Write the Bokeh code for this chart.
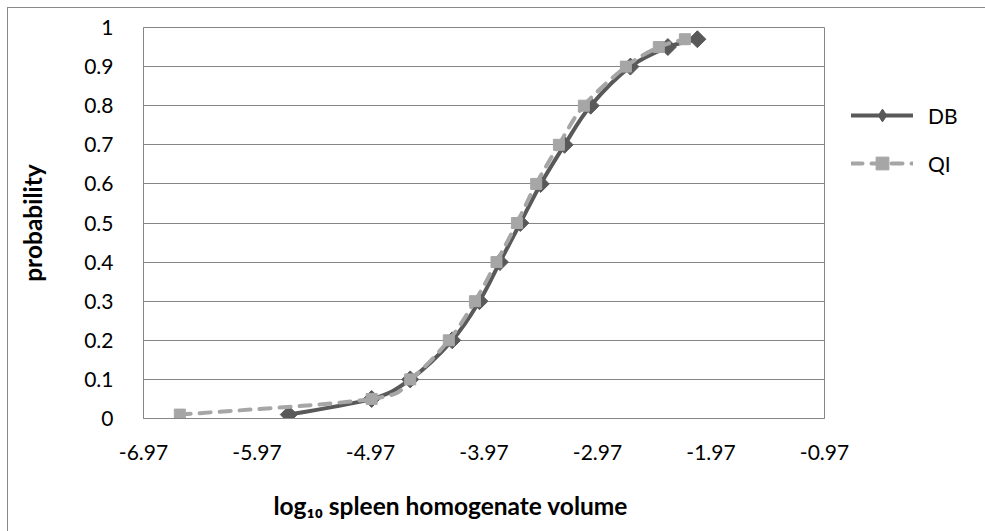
import numpy as np
from bokeh.plotting import figure
from bokeh.models import (FixedTicker, Legend, LegendItem, Title,
                          ColumnDataSource, Range1d)
from bokeh.embed import file_html
from bokeh.resources import INLINE

# ---------------- data ----------------
prob = [0.01, 0.05, 0.1, 0.2, 0.3, 0.4, 0.5, 0.6, 0.7, 0.8, 0.9, 0.95, 0.97]
db_x = [-5.69, -4.96, -4.62, -4.25, -4.01, -3.83, -3.65, -3.47, -3.26, -3.03, -2.68, -2.35, -2.09]
qi_x = [-6.65, -4.96, -4.62, -4.28, -4.05, -3.86, -3.68, -3.51, -3.31, -3.09, -2.72, -2.43, -2.20]
series_names = ["DB", "QI"]
x_ticks = [-6.97, -5.97, -4.97, -3.97, -2.97, -1.97, -0.97]
x_tick_labels = ["-6.97", "-5.97", "-4.97", "-3.97", "-2.97", "-1.97", "-0.97"]
y_ticks = [0, 0.1, 0.2, 0.3, 0.4, 0.5, 0.6, 0.7, 0.8, 0.9, 1]
y_tick_labels = ["0", "0.1", "0.2", "0.3", "0.4", "0.5", "0.6", "0.7", "0.8", "0.9", "1"]
x_title = "log\u2081\u2080 spleen homogenate volume"
y_title = "probability"

FONT = "Lato"
DB_COLOR = "#595959"
QI_COLOR = "#A6A6A6"
GRID = "#868686"


def smooth_segments(xs, ys):
    """Catmull-Rom style Bezier control points (as in spreadsheet 'smoothed lines')."""
    x = np.asarray(xs, float)
    y = np.asarray(ys, float)
    n = len(x)
    xp = np.concatenate([[x[0]], x, [x[-1]]])
    yp = np.concatenate([[y[0]], y, [y[-1]]])
    return dict(
        x0=x[:-1], y0=y[:-1], x1=x[1:], y1=y[1:],
        cx0=x[:-1] + (xp[2:n + 1] - xp[0:n - 1]) / 6.0,
        cy0=y[:-1] + (yp[2:n + 1] - yp[0:n - 1]) / 6.0,
        cx1=x[1:] - (xp[3:n + 2] - xp[1:n]) / 6.0,
        cy1=y[1:] - (yp[3:n + 2] - yp[1:n]) / 6.0,
    )


p = figure(frame_width=681, frame_height=391,
           x_range=Range1d(-6.97, -0.97), y_range=Range1d(0, 1),
           output_backend="svg", toolbar_location=None,
           min_border_left=135, min_border_right=160,
           min_border_top=19, min_border_bottom=113)
p.styles = {"margin-left": "7px", "margin-top": "7px",
            "border-top": "1px solid #898989",
            "border-left": "1px solid #898989",
            "border-right": "1px solid #898989"}
p.background_fill_color = "white"
p.border_fill_color = "white"
p.outline_line_color = GRID
p.outline_line_width = 1

# axes
p.xaxis.ticker = FixedTicker(ticks=x_ticks)
p.xaxis.major_label_overrides = dict(zip(x_ticks, x_tick_labels))
p.yaxis.ticker = FixedTicker(ticks=y_ticks)
p.yaxis.major_label_overrides = dict(zip(y_ticks, y_tick_labels))
for ax in (p.xaxis, p.yaxis):
    ax.axis_line_color = GRID
    ax.axis_line_width = 1
    ax.major_tick_line_color = None
    ax.minor_tick_line_color = None
    ax.major_label_text_font = FONT
    ax.major_label_text_font_size = "21px"
    ax.major_label_text_color = "black"
    ax.axis_label_text_font = FONT
    ax.axis_label_text_font_size = "24.5px"
    ax.axis_label_text_font_style = "bold"
    ax.axis_label_text_color = "black"
p.xaxis.major_label_standoff = 20
p.yaxis.major_label_standoff = 24
p.yaxis.axis_label = y_title
p.yaxis.axis_label_standoff = 34

# x-axis title (as a below-panel title so it can sit left of centre like the original)
p.add_layout(Title(text=x_title, align="left", offset=130, standoff=53,
                   text_font=FONT, text_font_size="24.5px", text_font_style="bold",
                   text_color="black"), "below")

p.xgrid.visible = False
p.ygrid.ticker = FixedTicker(ticks=y_ticks)
p.ygrid.grid_line_color = GRID
p.ygrid.grid_line_width = 1

# series DB
db_src = ColumnDataSource(smooth_segments(db_x, prob))
p.bezier(x0="x0", y0="y0", x1="x1", y1="y1", cx0="cx0", cy0="cy0",
         cx1="cx1", cy1="cy1", source=db_src,
         line_color=DB_COLOR, line_width=4, line_cap="round")
db_pts = p.scatter(db_x, prob, marker="square", size=12, angle=np.pi / 4,
                   fill_color=DB_COLOR, line_color=DB_COLOR)
db_leg = p.line(x=[np.nan], y=[np.nan], line_color=DB_COLOR, line_width=4,
                line_cap="round")
db_leg_mk = p.scatter(x=[np.nan], y=[np.nan], marker="diamond",
                      fill_color=DB_COLOR, line_color=DB_COLOR)

# series QI
qi_src = ColumnDataSource(smooth_segments(qi_x, prob))
p.bezier(x0="x0", y0="y0", x1="x1", y1="y1", cx0="cx0", cy0="cy0",
         cx1="cx1", cy1="cy1", source=qi_src,
         line_color=QI_COLOR, line_width=4, line_dash="11 9", line_cap="round")
qi_pts = p.scatter(qi_x, prob, marker="square", size=11,
                   fill_color=QI_COLOR, line_color=QI_COLOR)
qi_leg = p.line(x=[np.nan], y=[np.nan], line_color=QI_COLOR, line_width=4,
                line_dash="11 9", line_cap="round")

legend = Legend(items=[
    LegendItem(label=series_names[0], renderers=[db_leg, db_leg_mk]),
    LegendItem(label=series_names[1], renderers=[qi_leg, qi_pts]),
], location="top_left")
legend.title = " "
legend.title_text_font = FONT
legend.title_text_font_size = "20px"
legend.title_standoff = 21
legend.glyph_width = 62
legend.glyph_height = 32
legend.label_standoff = 15
legend.spacing = 16
legend.padding = 27
legend.margin = 0
legend.border_line_color = "white"
legend.border_line_alpha = 0
legend.background_fill_alpha = 0
legend.label_text_font = FONT
legend.label_text_font_size = "21px"
legend.label_text_color = "black"
p.add_layout(legend, "right")

open("out.html", "w").write(file_html(p, INLINE))
